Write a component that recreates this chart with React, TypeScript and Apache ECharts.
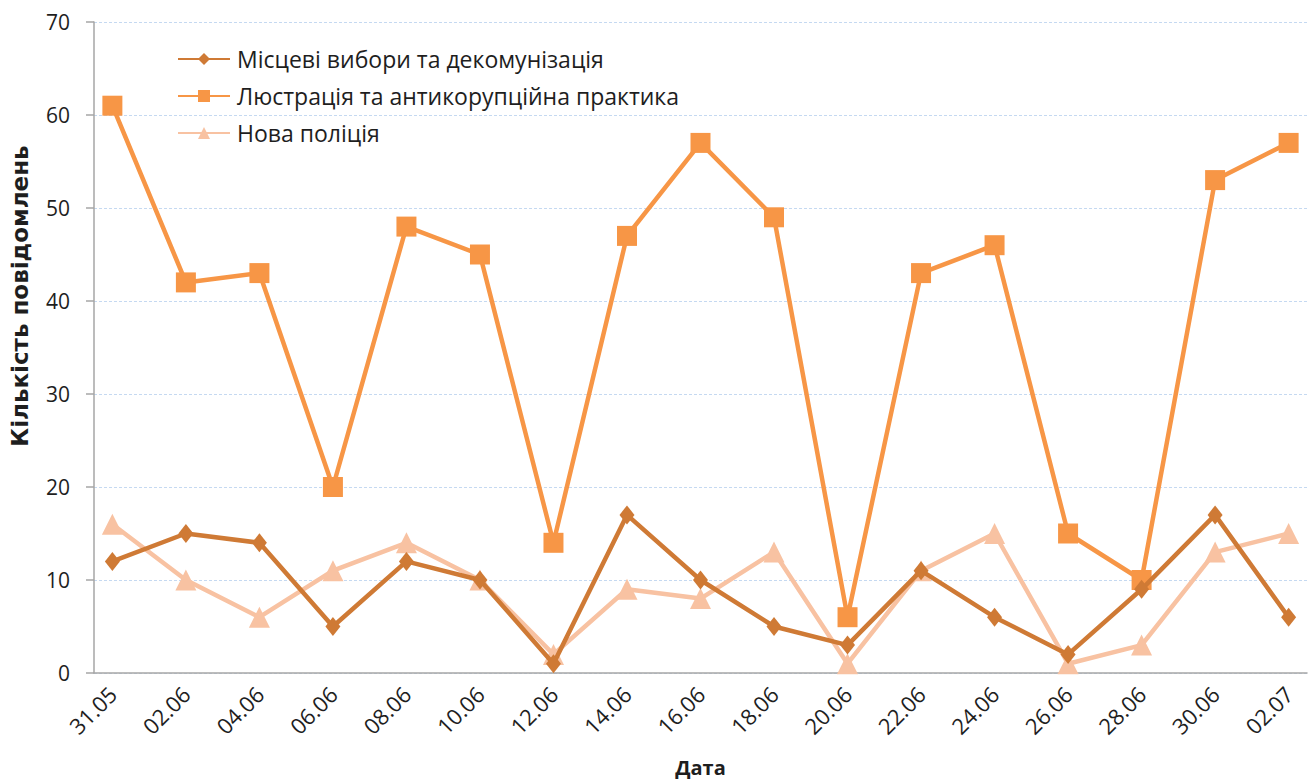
import React, { useEffect, useRef } from "react";
import * as echarts from "echarts";

// Daily dates on the axis (labels shown every other day)
const days: string[] = [
  "31.05", "01.06", "02.06", "03.06", "04.06", "05.06", "06.06", "07.06", "08.06", "09.06",
  "10.06", "11.06", "12.06", "13.06", "14.06", "15.06", "16.06", "17.06", "18.06", "19.06",
  "20.06", "21.06", "22.06", "23.06", "24.06", "25.06", "26.06", "27.06", "28.06", "29.06",
  "30.06", "01.07", "02.07",
];
// Dates that have observations
const sampleDates: string[] = [
  "31.05", "02.06", "04.06", "06.06", "08.06", "10.06", "12.06", "14.06", "16.06",
  "18.06", "20.06", "22.06", "24.06", "26.06", "28.06", "30.06", "02.07",
];
const seriesNames: string[] = [
  "Місцеві вибори та декомунізація",
  "Люстрація та антикорупційна практика",
  "Нова поліція",
];
const elections: number[] = [12, 15, 14, 5, 12, 10, 1, 17, 10, 5, 3, 11, 6, 2, 9, 17, 6];
const lustration: number[] = [61, 42, 43, 20, 48, 45, 14, 47, 57, 49, 6, 43, 46, 15, 10, 53, 57];
const police: number[] = [16, 10, 6, 11, 14, 10, 2, 9, 8, 13, 1, 11, 15, 1, 3, 13, 15];

const yAxisTitle = "Кількість повідомлень";
const xAxisTitle = "Дата";

function toDaily(values: number[]): (number | null)[] {
  return days.map((d) => {
    const i = sampleDates.indexOf(d);
    return i >= 0 ? values[i] : null;
  });
}

const FONT = "'Open Sans', 'Noto Sans', sans-serif";
const TEXT = "#1e1e1e";

export default function App() {
  const ref = useRef<HTMLDivElement>(null);
  useEffect(() => {
    if (!ref.current) return;
    const chart = echarts.init(ref.current, null, { renderer: "svg" });
    const colors = ["#cf7a35", "#f79646", "#f8c2a2"];
    const symbols = ["diamond", "rect", "triangle"];
    const sizes: any[] = [[15, 19], 20, 21];
    const datas = [elections, lustration, police];
    chart.setOption({
      animation: false,
      textStyle: { fontFamily: FONT },
      legend: {
        orient: "vertical",
        left: 172,
        top: 42,
        itemWidth: 52,
        itemHeight: 15,
        itemGap: 13,
        textStyle: {
          fontSize: 23,
          lineHeight: 24,
          color: TEXT,
          fontFamily: FONT,
          padding: [0, 0, 0, 2],
        },
        data: seriesNames.map((n) => ({ name: n })),
      },
      graphic: [
        {
          type: "text",
          x: 20,
          y: 296,
          rotation: Math.PI / 2,
          style: {
            text: yAxisTitle,
            fontSize: 23,
            fontWeight: "bold",
            fontFamily: "'DejaVu Sans', sans-serif",
            fill: TEXT,
            align: "center",
            verticalAlign: "middle",
          },
        },
      ],
      grid: { left: 94, right: 6, top: 22, bottom: 109 },
      xAxis: {
        type: "category",
        data: days,
        boundaryGap: true,
        name: xAxisTitle,
        nameLocation: "middle",
        nameGap: 84,
        nameTextStyle: { fontSize: 20, fontWeight: "bold", color: TEXT, fontFamily: FONT },
        axisLine: { lineStyle: { color: "#a6a6a6", width: 1.5 } },
        axisTick: { show: false },
        axisLabel: {
          interval: 1,
          rotate: 45,
          fontSize: 22,
          color: TEXT,
          margin: 17,
          fontFamily: FONT,
        },
      },
      yAxis: {
        type: "value",
        min: 0,
        max: 70,
        interval: 10,
        axisLine: { show: true, lineStyle: { color: "#a6a6a6", width: 1.5 } },
        axisTick: { show: true, length: 8, lineStyle: { color: "#a6a6a6", width: 1.5 } },
        axisLabel: { fontSize: 21, color: TEXT, margin: 24, fontFamily: FONT },
        splitLine: { lineStyle: { color: "#c5d9f1", type: [3, 2], width: 1 } },
      },
      series: seriesNames.map((name, i) => ({
        name,
        type: "line",
        data: toDaily(datas[i]),
        connectNulls: true,
        symbol: symbols[i],
        symbolSize: sizes[i],
        showAllSymbol: true,
        color: colors[i],
        lineStyle: { color: colors[i], width: 4.5 },
        itemStyle: { color: colors[i] },
        z: i === 1 ? 3 : i === 0 ? 4 : 2,
      })),
    });
    return () => chart.dispose();
  }, []);
  return (
    <div
      ref={ref}
      style={{ position: "fixed", left: 0, top: 0, width: 1313, height: 782, background: "#fff" }}
    />
  );
}
